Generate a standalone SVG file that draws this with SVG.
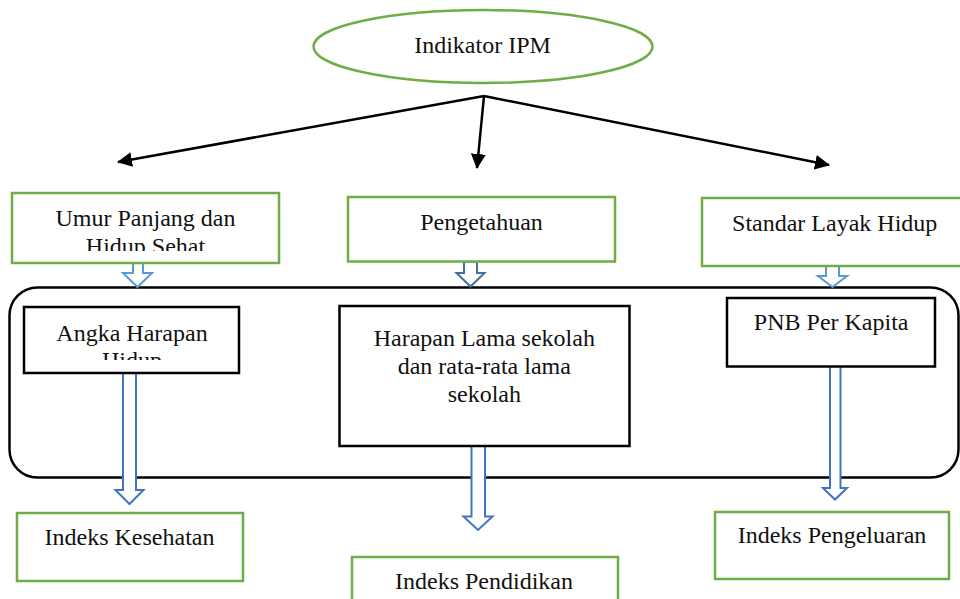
<svg xmlns="http://www.w3.org/2000/svg" width="960" height="599" viewBox="0 0 960 599">
<style>
text{font-family:"Liberation Serif","Times New Roman",serif;font-size:24px;fill:#111;text-anchor:middle}
.g{fill:#fff;stroke:#70AD47;stroke-width:2.5}
.b{fill:#fff;stroke:#000;stroke-width:2.5}
.c{stroke:#000;stroke-width:2.5;fill:none}
.ba1{fill:#fff;stroke:#5B9BD5;stroke-width:2}
.ba2{fill:#fff;stroke:#41719C;stroke-width:2}
.ba3{fill:#fff;stroke:#4472C4;stroke-width:2}
</style>
<defs>
<marker id="ah" markerUnits="userSpaceOnUse" markerWidth="16" markerHeight="16" refX="14" refY="7.5" orient="auto">
<path d="M0,0 L15,7.5 L0,15 z" fill="#000"/>
</marker>
<clipPath id="clip1"><rect x="12" y="193" width="267" height="58"/></clipPath>
<clipPath id="clip2"><rect x="24" y="307" width="215" height="53"/></clipPath>
</defs>

<g id="container">
<rect x="9.5" y="287.5" width="949" height="190" rx="28" ry="28" class="b" fill="none"/>
</g>

<g id="n-root">
<ellipse cx="483" cy="46.5" rx="169.5" ry="36.5" class="g"/>
<text x="482.5" y="53">Indikator IPM</text>
</g>

<g id="connectors">
<line x1="484" y1="96" x2="118" y2="162" class="c" marker-end="url(#ah)"/>
<line x1="484" y1="96" x2="477" y2="168" class="c" marker-end="url(#ah)"/>
<line x1="484" y1="96" x2="829" y2="165" class="c" marker-end="url(#ah)"/>
<polygon class="ba1" points="133,259 143,259 143,273 152,273 137.5,287 123,273 133,273"/>
<polygon class="ba2" points="464,261.5 477,261.5 477,273 484.5,273 470.5,286.5 456.5,273 464,273"/>
<polygon class="ba1" points="826,266 839,266 839,276 847,276 832.5,287 818,276 826,276"/>
<polygon class="ba3" points="123,373 136,373 136,490 143.5,490 129.5,504 115.5,490 123,490"/>
<polygon class="ba3" points="471.5,441 485,441 485,516.5 492.5,516.5 478,530 463.5,516.5 471.5,516.5"/>
<polygon class="ba3" points="830,366 840.5,366 840.5,488 847,488 835,499.5 823,488 830,488"/>
</g>

<g id="n-umur">
<rect x="12" y="193" width="267" height="70" class="g"/>
<g clip-path="url(#clip1)">
<text x="145.5" y="226">Umur Panjang dan</text>
<text x="145.5" y="253.6">Hidup Sehat</text>
</g>
</g>

<g id="n-pengetahuan">
<rect x="348" y="197" width="267" height="64.5" class="g"/>
<text x="481.5" y="229.5">Pengetahuan</text>
</g>

<g id="n-standar">
<rect x="702" y="198" width="266" height="68" class="g"/>
<text x="834.7" y="230.7">Standar Layak Hidup</text>
</g>

<g id="n-angka">
<rect x="24" y="307" width="215" height="66" class="b"/>
<g clip-path="url(#clip2)">
<text x="132" y="341">Angka Harapan</text>
<text x="132" y="368">Hidup</text>
</g>
</g>

<g id="n-harapan">
<rect x="339.5" y="306" width="290" height="140" class="b"/>
<text x="484.3" y="346">Harapan Lama sekolah</text>
<text x="484.3" y="373.5">dan rata-rata lama</text>
<text x="484.3" y="401.5">sekolah</text>
</g>

<g id="n-pnb">
<rect x="727" y="298" width="208" height="68.5" class="b"/>
<text x="831.2" y="330">PNB Per Kapita</text>
</g>

<g id="n-kesehatan">
<rect x="17" y="513" width="226" height="68" class="g"/>
<text x="129.5" y="545">Indeks Kesehatan</text>
</g>

<g id="n-pendidikan">
<rect x="352" y="557" width="266" height="60" class="g"/>
<text x="484" y="589">Indeks Pendidikan</text>
</g>

<g id="n-pengeluaran">
<rect x="715" y="512" width="234" height="67" class="g"/>
<text x="832" y="543.3">Indeks Pengeluaran</text>
</g>
</svg>
